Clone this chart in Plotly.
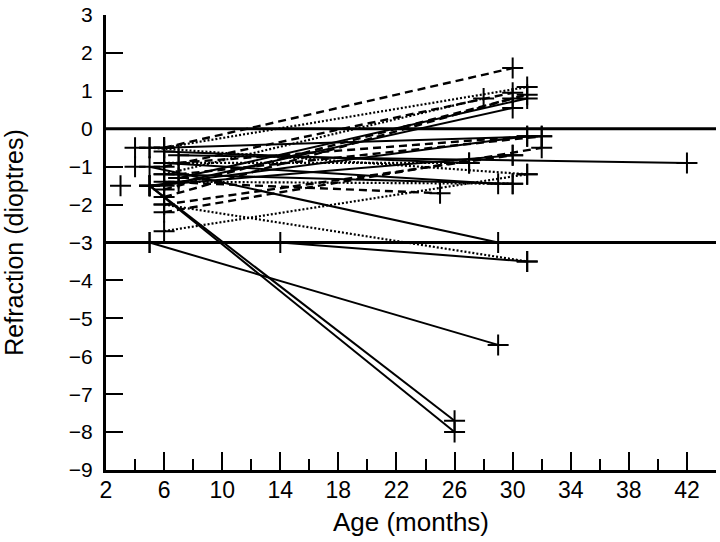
import plotly.graph_objects as go

# Reference refraction levels (thick horizontal lines)
ref_levels = [0, -3]
x_range = [2, 44]
y_range = [-9, 3]

# Individual subjects: ages (months) and refraction (dioptres), grouped by line style
solid_ages = [
    [5, 26], [5, 26], [5, 29], [5, 14, 31], [5, 29],
    [6, 30], [7, 31], [7, 42], [6, 30], [6, 29],
    [6, 27], [6, 32], [5, 31], [5, 30],
]
solid_refr = [
    [-1.5, -7.7], [-1.5, -8.0], [-3.0, -5.7], [-3.0, -3.0, -3.5], [-1.0, -3.0],
    [-1.5, 0.55], [-1.3, 0.8], [-0.7, -0.9], [-1.2, -1.45], [-0.9, -1.45],
    [-0.6, -0.9], [-0.5, -0.2], [-1.5, -0.2], [-1.5, -0.7],
]

dashed_ages = [
    [6, 30], [6, 30], [6, 30], [7, 31], [6, 32],
    [6, 30], [6, 25], [7, 32], [6, 31],
]
dashed_refr = [
    [-0.5, 1.6], [-1.8, 0.8], [-1.0, 0.95], [-0.9, -0.2], [-2.2, -0.5],
    [-2.0, -0.7], [-1.4, -1.7], [-1.2, -0.2], [-1.6, 0.9],
]

dotted_ages = [
    [6, 31], [6, 31], [6, 31], [6, 27], [5, 31], [6, 28], [7, 30],
]
dotted_refr = [
    [-0.5, 1.1], [-2.7, -1.2], [-2.0, -3.5], [-0.9, -0.9], [-0.5, -1.2],
    [-1.2, 0.8], [-1.4, -1.45],
]

# Single measurements without a follow-up line
single_ages = [3, 4, 4, 5]
single_refr = [-1.5, -0.5, -1.0, -0.5]


def joined(ages_list, refr_list):
    xs, ys = [], []
    for a, r in zip(ages_list, refr_list):
        xs += list(a) + [None]
        ys += list(r) + [None]
    return xs, ys


marker = dict(symbol="cross-thin", size=15, color="black",
              line=dict(color="black", width=2))

fig = go.Figure()

rx, ry = [], []
for lv in ref_levels:
    rx += [x_range[0], x_range[1], None]
    ry += [lv, lv, None]
fig.add_trace(go.Scatter(x=rx, y=ry, mode="lines",
                         line=dict(color="black", width=3), hoverinfo="skip"))

for ages, refr, dash, w in [(solid_ages, solid_refr, "solid", 2),
                            (dashed_ages, dashed_refr, "8px,5px", 2.4),
                            (dotted_ages, dotted_refr, "2px,2px", 2.2)]:
    xs, ys = joined(ages, refr)
    fig.add_trace(go.Scatter(x=xs, y=ys, mode="lines+markers",
                             line=dict(color="black", width=w, dash=dash),
                             marker=marker))

fig.add_trace(go.Scatter(x=single_ages, y=single_refr, mode="markers", marker=marker))

font_family = "Liberation Sans, Arial, sans-serif"

fig.update_layout(
    width=720, height=542,
    margin=dict(l=106, r=4, t=15, b=72),
    paper_bgcolor="white", plot_bgcolor="white",
    showlegend=False,
    font=dict(family=font_family, color="black"),
    xaxis=dict(
        range=x_range, tickmode="linear", tick0=2, dtick=4,
        ticks="inside", ticklen=18, tickwidth=2, tickcolor="black",
        minor=dict(tick0=2, dtick=2, ticks="inside", ticklen=11,
                   tickwidth=1.5, tickcolor="black"),
        showline=True, linewidth=3, linecolor="black",
        showgrid=False, zeroline=False, automargin=False,
        ticklabelstandoff=-3,
        tickfont=dict(size=23, family=font_family),
        title=dict(text="Age (months)", font=dict(size=26, family=font_family),
                   standoff=12),
    ),
    yaxis=dict(
        range=y_range, tickmode="linear", tick0=-9, dtick=1,
        ticks="inside", ticklen=17, tickwidth=2, tickcolor="black",
        showline=True, linewidth=3, linecolor="black",
        showgrid=False, zeroline=False, automargin=False,
        ticklabelstandoff=6,
        tickfont=dict(size=21, family=font_family),
        title=dict(text="Refraction (dioptres)",
                   font=dict(size=25, family=font_family), standoff=40),
    ),
)

fig.write_html("out.html", config={"displayModeBar": False},
               post_script="document.body.style.margin='0';document.body.style.padding='0';")
